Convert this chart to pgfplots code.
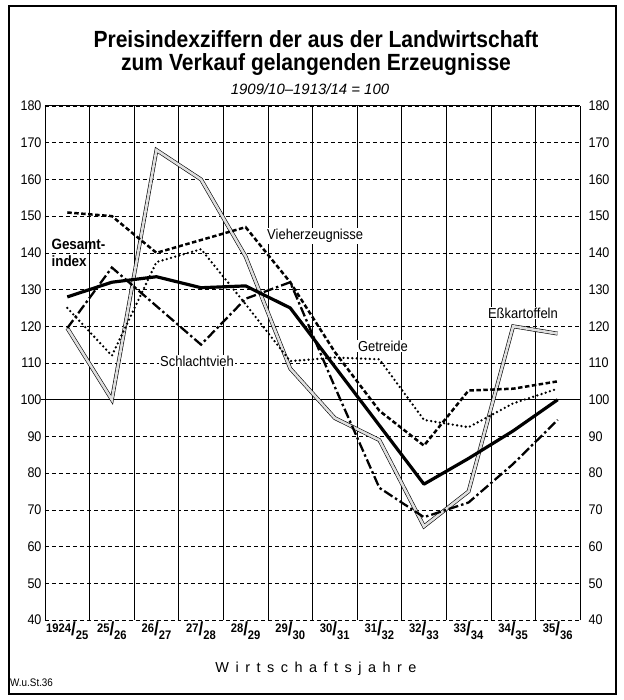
\documentclass[border=0pt]{standalone}
\usepackage{fontspec}
\setmainfont{Liberation Sans}
\newfontfamily\nf[FakeStretch=0.9]{Liberation Sans}
\newfontfamily\spacedfont[LetterSpace=45]{Liberation Sans}
\usepackage{graphicx}
\usepackage{pgfplots}
\pgfplotsset{compat=1.18}
\newcommand{\fr}[2]{\raisebox{0.45ex}{#1}{\fontsize{19}{19}\selectfont/}\raisebox{-0.55ex}{#2}}
\begin{document}
\begin{tikzpicture}
\useasboundingbox (-45bp,-80bp) rectangle (579bp,620bp);
\begin{axis}[
  scale only axis, width=535bp, height=514bp,
  xmin=-0.5, xmax=11.5, ymin=40, ymax=180,
  xtick={0,...,11},
  xticklabels={\fr{1924}{25},\fr{25}{26},\fr{26}{27},\fr{27}{28},\fr{28}{29},\fr{29}{30},\fr{30}{31},\fr{31}{32},\fr{32}{33},\fr{33}{34},\fr{34}{35},\fr{35}{36}},
  minor xtick={-0.5,0.5,...,11.5},
  xminorgrids, minor x grid style={black, line width=0.6pt},
  ytick={40,50,...,180}, ymajorgrids,
  y grid style={black, dash pattern=on 4pt off 3pt, line width=0.5pt},
  major tick length=0pt, minor tick length=0pt,
  axis line style={draw=none},
  /pgf/number format/assume math mode=true,
  yticklabel style={font=\nf\fontsize{14}{15}\selectfont, xshift=0bp},
  xticklabel style={font=\nf\bfseries\fontsize{12.5}{14}\selectfont, yshift=-1bp, inner sep=1pt},
  clip=false,
]
\draw[black, line width=1pt] (axis cs:-0.5,180) -- (axis cs:11.5,180);
\draw[black, line width=1pt] (axis cs:-0.5,40) -- (axis cs:-0.5,180);
\draw[black, line width=1pt] (axis cs:11.5,40) -- (axis cs:11.5,180);
\draw[black, line width=1.3pt] (axis cs:-0.6,100) -- (axis cs:11.5,100);
% Esskartoffeln
\addplot[draw=black, line width=0.6pt, double=gray!25, double distance=2.6pt, line join=miter] coordinates {
(0,119.5) (1,100) (2,168) (3,160) (4,139) (5,108.5) (6,95) (7,89) (8,65.5) (9,75) (10,120) (11,118)};
% Getreide
\addplot[black, line width=2.6pt, dash pattern=on 0pt off 4.4pt, line cap=round] coordinates {
(0,125) (1,112) (2,137.5) (3,141) (4,126) (5,110.5) (6,111.5) (7,111) (8,94.5) (9,92.5) (10,99) (11,103)};
% Vieherzeugnisse
\addplot[black, line width=2.5pt, dash pattern=on 4.5pt off 2.5pt] coordinates {
(0,151) (1,150) (2,140) (3,143.5) (4,147) (5,132) (6,113) (7,97) (8,87.5) (9,102.5) (10,103) (11,105)};
% Schlachtvieh
\addplot[black, line width=2.3pt, dash pattern=on 10pt off 3pt on 2.5pt off 3pt] coordinates {
(0,119.5) (1,136) (2,125.5) (3,115) (4,127.5) (5,132) (6,103.5) (7,76) (8,68) (9,72) (10,82.5) (11,94.5)};
% Gesamtindex
\addplot[black, line width=3.2pt, line join=round] coordinates {
(0,128) (1,132) (2,133.5) (3,130.5) (4,131) (5,125) (6,109) (7,93) (8,77) (9,84) (10,91.5) (11,100)};
\node[font=\nf\bfseries\fontsize{15}{17}\selectfont, align=left, anchor=north west, inner sep=1pt] at (axis cs:-0.38,144) {Gesamt-\\index};
\node[font=\nf\fontsize{14.5}{15}\selectfont, fill=white, inner sep=1pt] at (axis cs:5.56,144.6) {Vieherzeugnisse};
\node[font=\nf\fontsize{14.5}{15}\selectfont, fill=white, inner sep=1pt] at (axis cs:2.91,110.5) {Schlachtvieh};
\node[font=\nf\fontsize{14.5}{15}\selectfont, fill=white, inner sep=1pt] at (axis cs:7.08,114.6) {Getreide};
\node[font=\nf\fontsize{14.5}{15}\selectfont, fill=white, inner sep=1pt] at (axis cs:10.22,123.6) {Eßkartoffeln};
\end{axis}
\begin{axis}[
  scale only axis, width=535bp, height=514bp,
  xmin=-0.5, xmax=11.5, ymin=40, ymax=180,
  axis x line=none, axis y line*=right,
  y axis line style={draw=none},
  ytick={40,50,...,180}, major tick length=0pt,
  /pgf/number format/assume math mode=true,
  yticklabel style={font=\nf\fontsize{14}{15}\selectfont, xshift=5bp},
]
\addplot[draw=none] coordinates {(0,100)};
\end{axis}
\node[font=\nf\bfseries\fontsize{23.5}{23}\selectfont, align=center, inner sep=0pt] at (271bp,567bp) {Preisindexziffern der aus der Landwirtschaft\\zum Verkauf gelangenden Erzeugnisse};
\node[font=\itshape\fontsize{15}{17}\selectfont, inner sep=1pt] at (265bp,531bp) {1909/10--1913/14 = 100};
\node[font=\spacedfont\fontsize{14.5}{16}\selectfont] at (271bp,-49bp) {Wirtschaftsjahre};
\node[font=\nf\fontsize{11}{12}\selectfont, anchor=west, inner sep=0pt] at (-35bp,-63bp) {W.u.St.36};
\draw[black, line width=1.2pt] (-36bp,-74bp) rectangle (571bp,614bp);
\end{tikzpicture}
\end{document}
